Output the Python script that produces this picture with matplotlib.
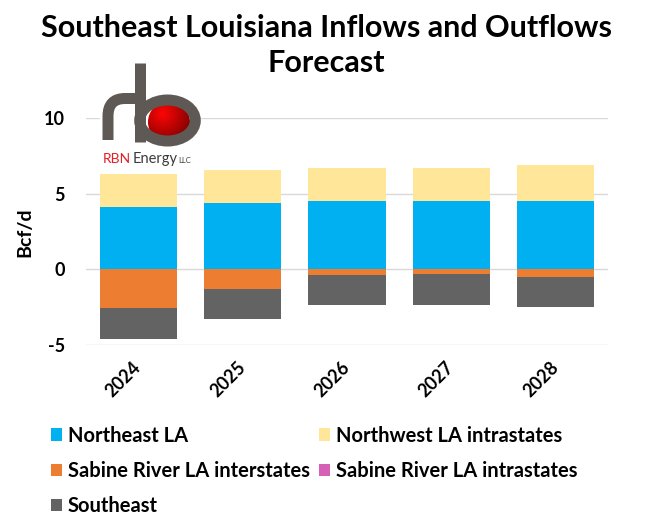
import numpy as np
import matplotlib.pyplot as plt
from matplotlib.patches import Circle, Ellipse, Rectangle
from matplotlib.path import Path
from matplotlib.patches import PathPatch

years = ['2024', '2025', '2026', '2027', '2028']
northeast_la = [4.12, 4.39, 4.50, 4.50, 4.50]
northwest_intra = [2.20, 2.19, 2.21, 2.21, 2.40]
sabine_inter = [-2.57, -1.27, -0.39, -0.33, -0.51]
sabine_intra = [0.0, 0.0, 0.0, 0.0, 0.0]
southeast = [-2.03, -1.98, -1.96, -2.00, -1.98]

plt.rcParams['font.family'] = ['Lato', 'DejaVu Sans']
plt.rcParams['font.weight'] = 'bold'
plt.rcParams['axes.unicode_minus'] = False

fig = plt.figure(figsize=(6.5, 5.32), dpi=100)
ax = fig.add_axes([0.1323, 0.3515, 0.803, 0.4267])

x = np.arange(len(years))
w = 0.74
ne = np.array(northeast_la)
si = np.array(sabine_inter)
b1 = ax.bar(x, northeast_la, w, color='#00B0F0', label='Northeast LA', zorder=3)
b2 = ax.bar(x, northwest_intra, w, bottom=ne, color='#FFE699', label='Northwest LA intrastates', zorder=3)
b3 = ax.bar(x, sabine_inter, w, color='#ED7D31', label='Sabine River LA interstates', zorder=3)
b4 = ax.bar(x, sabine_intra, w, bottom=si, color='#D660B6', label='Sabine River LA intrastates', zorder=3)
b5 = ax.bar(x, southeast, w, bottom=si, color='#636363', label='Southeast', zorder=3)

ax.set_ylim(-5, 10)
ax.set_xlim(-0.5, len(years) - 0.5)
ax.set_yticks([-5, 0, 5, 10])
ax.set_xticks(x)
ax.set_xticklabels(years, rotation=45, ha='right', va='center', rotation_mode='anchor')
ax.tick_params(length=0, labelsize=13)
ax.tick_params(axis='y', pad=15)
ax.tick_params(axis='x', pad=14)
ax.grid(axis='y', color='#D9D9D9', linewidth=1, zorder=0)
for s in ax.spines.values():
    s.set_visible(False)

fig.text(25 / 650, 1 - 232 / 532, 'Bcf/d', rotation=90, ha='center', va='center',
         fontsize=14, fontweight='bold')

fig.text(0.502, 1 - 28 / 532, 'Southeast Louisiana Inflows and Outflows', ha='center',
         va='center', fontsize=22, fontweight='bold')
fig.text(0.502, 1 - 63 / 532, 'Forecast', ha='center', va='center', fontsize=22,
         fontweight='bold')

# legend, filled row by row like the original
handles = [b1, b3, b5, b2, b4]
labels = [h.get_label() for h in handles]
fig.legend(handles, labels, loc='upper left', bbox_to_anchor=(0.078, 0.200), ncol=2,
           frameon=False, fontsize=14.5, handlelength=0.55, handleheight=0.55,
           handletextpad=0.3, columnspacing=0.45, labelspacing=0.75, borderpad=0,
           borderaxespad=0)

# RBN Energy logo, drawn in pixel coordinates
lg = fig.add_axes([80 / 650, 1 - 180 / 532, 140 / 650, 130 / 532], zorder=5)
lg.add_patch(Rectangle((100, 58), 100, 110, color='white', zorder=1))
pipe = '#5E5955'
lw = 11 / 1.389

# red ball with a simple radial shading
yy, xx = np.mgrid[0:1:200j, 0:1:200j]
d = np.hypot(xx - 0.35, yy - 0.3)
shade = np.clip(1 - d / 0.95, 0, 1)
rgb = np.dstack([0.35 + 0.65 * shade, 0.02 * shade, 0.02 * shade])
ball = Circle((169, 122), 21, transform=lg.transData)
im = lg.imshow(rgb, extent=(148, 190, 143, 101), zorder=2)
im.set_clip_path(ball)
lg.set_xlim(80, 220)
lg.set_ylim(180, 50)
lg.axis('off')

lg.add_patch(Ellipse((167.5, 120.5), 55.6, 41, fill=False, ec=pipe, lw=lw, zorder=3))
lg.plot([139.5, 139.5], [63, 142], color=pipe, lw=lw, solid_capstyle='butt', zorder=4)
r_path = Path([(108, 140), (108, 116), (108, 98.5), (125, 98.5), (139.5, 98.5)],
              [Path.MOVETO, Path.LINETO, Path.CURVE3, Path.CURVE3, Path.LINETO])
lg.add_patch(PathPatch(r_path, fill=False, ec=pipe, lw=lw, capstyle='butt',
                       joinstyle='round', zorder=4))

# logo caption: place the words one after another
r = fig.canvas.get_renderer()
xpos = 102.5
for word, col, size in [('RBN', '#E31E24', 10), ('Energy', '#3C3C3C', 10.5), ('LLC', '#3C3C3C', 5.5)]:
    t = lg.text(xpos, 163, word, color=col, fontsize=size, fontweight='normal',
                va='baseline', zorder=6)
    bb = t.get_window_extent(renderer=r)
    xpos += bb.width + 1.5

fig.savefig('out.png', dpi=100)
